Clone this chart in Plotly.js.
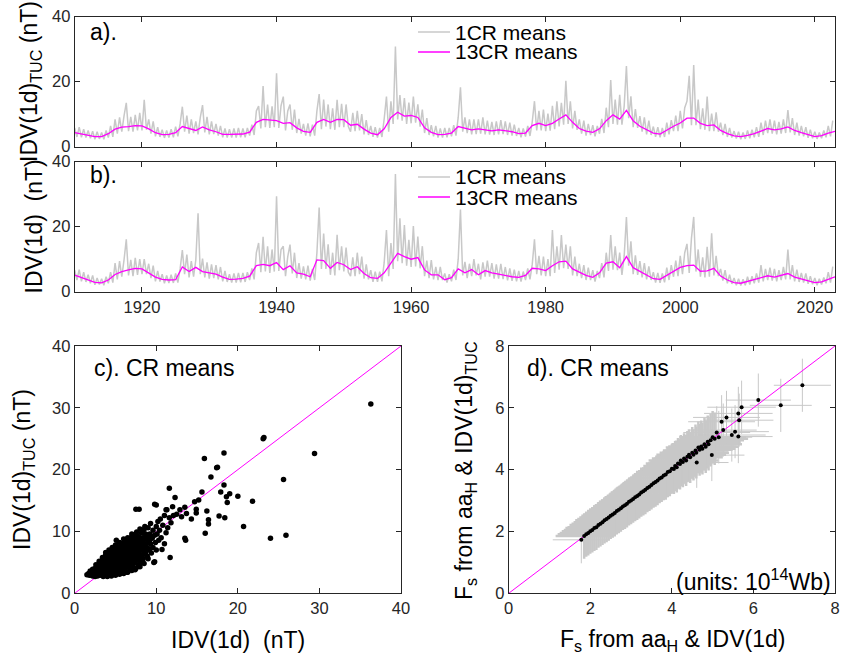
<!DOCTYPE html>
<html>
<head>
<meta charset="utf-8">
<script src="https://cdn.plot.ly/plotly-3.0.1.min.js"></script>
<style>html,body{margin:0;padding:0;background:#fff;}#chart{width:841px;height:661px;}</style>
</head>
<body>
<div id="chart"></div>
<script>
// ---------- Panels a/b: 1CR means (3 samples per year, from 1910) ----------
const grayStart = 1910;
const grayStep = 1/3;
const grayA = [
5.8,3.0,6.0, 2.9,5.4,2.8, 5.0,2.6,4.8, 2.3,4.6,2.4, 4.4,2.3,5.0, 2.8,6.4,3.0, 8.4,4.0,9.0, 4.6,9.5,13.5, 4.8,9.2,4.6, 9.8,5.0,10.4,
5.0,14.4,5.2, 8.4,4.0,7.8, 3.2,6.0,3.0, 5.2,2.7,5.0, 2.8,5.4,2.9, 6.2,3.2,7.0, 12.3,4.6,9.6, 4.0,8.4,4.2, 7.8,3.8,9.0, 12.8,4.4,9.2,
3.8,7.8,3.9, 7.0,3.4,6.4, 2.9,5.6,2.8, 5.4,2.8,5.6, 2.8,5.8,2.9, 5.6,2.9,5.8, 3.4,6.8,3.6, 11.0,12.5,5.6, 18.7,6.0,13.0, 5.8,12.4,6.0,
22.6,5.8,12.6, 15.4,5.0,11.0, 13.0,5.2,11.4, 4.2,8.6,4.0, 7.0,3.4,7.2, 3.2,6.8,3.4, 11.0,16.2,5.4, 14.5,6.2,13.0, 5.4,11.8,5.2, 14.4,6.0,13.2,
6.0,13.0,6.2, 4.6,10.4,4.8, 11.0,5.0,10.0, 3.8,8.2,3.6, 6.4,3.0,6.0, 2.8,5.8,3.0, 8.6,15.4,4.6, 14.0,7.0,30.8, 8.4,15.9,8.0, 15.0,7.0,13.6,
7.2,15.4,7.4, 13.0,6.2,11.4, 4.2,8.8,3.6, 6.6,3.2,6.4, 2.8,5.6,2.8, 5.8,2.9,5.8, 3.2,6.6,3.4, 9.0,18.3,4.6, 9.0,4.2,8.4, 3.8,8.4,3.9,
8.4,4.0,9.0, 3.8,8.0,3.7, 7.6,3.6,7.8, 3.8,8.2,3.9, 7.8,3.6,7.4, 3.4,6.8,3.3, 5.8,2.9,5.6, 3.1,6.4,3.3, 7.6,14.0,5.0, 11.0,5.0,11.4,
4.8,10.2,4.9, 12.6,5.4,14.0, 6.2,13.5,6.8, 20.3,7.0,14.0, 5.6,11.0,5.2, 8.4,4.0,8.0, 3.4,7.0,3.6, 6.6,3.2,6.4, 4.0,8.6,4.2, 12.0,6.0,20.5,
7.0,14.5,6.8, 16.0,6.8,12.5, 24.8,8.8,15.5, 6.0,11.6,5.8, 9.4,4.6,9.0, 3.8,8.0,3.6, 6.2,3.0,6.0, 2.9,5.8,3.0, 7.4,3.8,8.2, 4.8,9.6,4.8,
11.0,5.6,12.0, 14.0,21.8,6.6, 25.1,6.6,14.5, 5.4,11.8,5.2, 15.4,4.8,10.2, 4.8,10.6,4.6, 7.4,3.6,7.0, 3.0,5.8,2.8, 4.8,2.5,4.6, 2.3,4.4,2.4,
5.0,2.6,5.2, 2.9,6.0,3.0, 7.4,3.6,8.0, 4.2,8.4,4.0, 8.0,3.8,7.6, 4.0,8.4,4.2, 11.3,4.4,8.8, 3.6,7.4,3.4, 6.4,3.2,6.0, 2.7,5.2,2.6,
4.6,2.4,4.4, 2.6,5.0,2.9, 6.4,3.2,8.0
];
const grayB = [
6.6,3.6,6.8, 3.2,6.0,3.0, 5.2,2.6,5.0, 2.1,4.2,2.2, 4.0,2.0,4.6, 2.6,6.0,2.8, 8.8,3.8,9.4, 4.6,9.8,16.1, 5.0,9.8,4.8, 10.4,5.2,10.0,
5.4,10.0,5.4, 8.6,4.2,8.0, 3.2,6.4,3.1, 5.4,2.6,5.0, 2.7,5.2,2.7, 5.6,2.8,7.0, 12.8,5.4,11.4, 4.4,9.4,4.6, 9.8,24.1,5.4, 10.2,4.4,9.0,
4.0,8.4,4.2, 8.2,3.8,7.6, 3.2,6.4,3.0, 5.4,2.8,5.6, 2.8,5.8,2.9, 5.8,3.0,6.0, 3.6,7.2,3.8, 12.0,15.0,6.0, 16.9,6.2,14.0, 5.8,13.0,6.2,
29.4,6.4,13.0, 14.0,4.8,10.8, 14.5,5.6,12.0, 4.2,8.8,4.0, 7.8,3.8,8.0, 3.4,7.0,3.6, 12.0,25.9,7.0, 17.9,7.0,14.6, 5.2,12.0,5.0, 17.5,6.6,14.0,
6.2,13.6,6.0, 4.8,10.6,4.8, 12.0,5.4,10.8, 4.0,8.4,3.8, 6.6,3.0,6.2, 3.0,6.2,3.2, 9.0,19.0,4.8, 15.0,7.0,36.2, 9.4,22.6,8.8, 20.5,8.0,16.0,
7.6,20.2,7.8, 17.0,7.2,14.0, 4.8,9.6,4.2, 9.7,3.8,7.6, 3.6,7.6,3.6, 5.6,2.8,5.4, 3.2,6.8,3.6, 10.0,25.3,5.0, 9.2,4.2,8.6, 4.8,10.0,5.0,
8.6,3.8,9.0, 4.6,9.6,4.6, 8.8,4.0,8.4, 4.0,8.6,3.9, 7.6,3.5,7.2, 3.3,6.8,3.2, 6.4,3.1,6.2, 3.6,7.2,3.8, 8.4,16.1,5.4, 11.0,5.0,10.8,
4.8,10.0,4.8, 19.0,5.8,14.0, 6.8,17.4,7.2, 14.5,7.0,14.0, 5.0,10.8,4.8, 8.6,4.2,8.2, 3.6,7.4,3.6, 6.6,3.1,6.4, 4.2,8.8,4.4, 12.0,6.4,17.4,
6.8,14.0,6.6, 12.0,5.2,11.0, 23.0,8.0,15.5, 5.4,11.2,5.2, 9.4,4.4,8.8, 3.8,7.8,3.6, 6.0,2.8,5.8, 2.7,5.6,2.9, 7.4,3.6,8.2, 4.6,9.6,4.8,
11.0,5.4,12.0, 14.7,5.8,16.5, 23.0,6.2,13.0, 4.6,10.6,4.4, 13.8,4.6,18.0, 5.0,11.0,4.8, 7.0,3.4,6.6, 2.6,5.2,2.4, 4.2,2.0,4.0, 1.9,3.8,2.0,
4.6,2.2,4.8, 2.6,5.6,2.8, 8.2,3.2,7.0, 3.6,7.4,3.4, 7.0,3.2,6.6, 3.6,7.6,3.8, 13.0,3.8,8.2, 3.2,6.8,3.0, 5.8,2.8,5.6, 2.4,4.8,2.3,
4.2,2.0,4.0, 2.2,4.4,2.6, 6.0,2.8,7.7
];

// ---------- Panels a/b: 13CR means (yearly, from 1910) ----------
const magStart = 1910;
const magA = [
4.3,3.9,3.5,3.1,3.1,4.0,5.4,6.0,6.2,6.5,
6.4,5.5,4.3,3.7,3.8,4.3,6.2,5.5,5.0,6.1,
5.2,4.6,3.8,3.8,3.8,3.9,4.5,7.5,8.4,8.1,
8.0,7.2,7.4,5.8,4.7,4.4,7.5,8.4,7.5,8.4,
8.3,6.6,6.9,5.4,4.2,3.7,5.5,9.0,10.6,9.4,
9.6,9.0,5.8,4.4,3.7,3.8,4.2,6.2,5.8,5.2,
5.5,5.2,4.9,5.2,5.0,4.6,4.0,4.2,6.5,7.2,
6.5,7.2,8.5,9.8,7.5,5.6,4.8,4.4,5.5,8.0,
9.8,8.5,11.2,8.0,6.3,5.2,4.2,3.9,5.2,6.3,
7.3,8.8,8.8,7.2,6.5,6.7,5.0,4.0,3.3,3.1,
3.5,4.0,4.8,5.6,5.2,5.5,6.1,5.0,4.3,3.6,
3.1,3.4,4.2,4.7
];
const magB = [
5.1,4.4,3.6,2.9,2.7,3.6,5.3,6.2,6.7,7.2,
7.0,5.8,4.5,3.8,3.6,3.7,7.6,6.2,7.5,6.2,
5.7,5.4,4.5,3.8,3.9,4.1,4.8,8.0,8.4,8.0,
9.0,6.8,8.0,5.8,5.4,4.6,9.8,9.6,7.2,9.0,
8.3,6.8,7.7,5.6,4.3,4.1,5.8,9.0,11.8,10.8,
10.0,10.5,6.7,5.2,5.2,3.7,4.3,7.0,5.8,6.8,
5.2,6.5,5.8,5.4,4.9,4.6,4.4,5.0,7.2,7.0,
6.5,8.0,9.2,9.4,7.0,6.0,5.0,4.4,5.8,8.8,
9.2,7.4,10.8,7.4,6.3,5.2,4.0,3.8,5.1,6.3,
7.5,8.0,8.2,6.3,6.4,7.2,4.8,3.6,2.8,2.6,
3.2,3.7,4.5,4.9,4.5,5.0,5.6,4.5,4.0,3.3,
2.8,3.0,3.9,4.6
];
const yearTicks = [1920,1940,1960,1980,2000,2020];

// ---------- Panel c: CR means scatter ----------
const cX = [1.5,1.7,1.8,2.0,2.1,2.2,2.3,2.4,2.5,2.5,2.6,2.7,2.8,2.8,2.9,3.0,3.0,3.1,3.2,3.2,3.3,3.4,3.4,3.5,3.6,3.6,3.7,3.7,3.8,3.8,3.9,4.0,4.0,4.1,4.1,4.2,4.2,4.3,4.3,4.4,4.5,4.5,4.6,4.6,4.7,4.8,4.8,4.9,4.9,5.0,5.0,5.1,5.1,5.2,5.2,5.3,5.3,5.4,5.4,5.5,5.6,5.6,5.7,5.7,5.8,5.8,5.9,6.0,6.0,6.1,6.1,6.2,6.2,6.3,6.3,6.4,6.5,6.5,6.6,6.6,6.7,6.8,6.8,6.9,7.0,7.0,7.1,7.1,7.2,7.3,7.3,7.4,7.5,7.5,7.6,7.7,7.7,7.8,7.9,7.9,8.0,8.0,8.1,8.2,8.2,8.3,8.4,8.5,8.5,8.6,8.7,8.8,8.9,9.0,9.0,9.1,9.2,9.3,9.3,9.4,9.5,9.6,9.6,9.7,9.8,9.8,9.9,10.0,10.0,10.1,10.2,10.3,10.4,10.5,10.6,10.7,10.8,11.0,11.0,11.2,11.3,11.4,11.6,11.6,11.7,11.8,12.0,12.1,12.3,12.5,12.9,13.1,13.5,13.5,13.6,13.7,14.3,14.7,14.9,14.9,15.2,15.6,15.9,16.0,16.2,16.4,16.4,16.7,17.4,17.5,17.7,17.9,18.3,18.3,18.4,18.6,18.7,19.0,20.0,20.7,21.8,23.1,23.2,24.0,25.6,25.9,29.4,36.3,10.0,7.5,9.8,7.4,6.4,11.2,
2.2,2.6,2.9,3.1,3.3,3.5,3.7,3.9,4.0,4.2,4.4,4.4,4.6,4.7,4.9,5.0,5.1,5.3,5.5,5.5,5.7,5.9,6.0,6.2,6.4,6.5,6.7,6.9,7.1,7.3,7.5,7.7,7.9,8.1,8.3,8.5,8.8,9.1,4.8,3.9,2.4,2.7,
2.3,2.35,2.7,2.65,3.1,3.05,3.15,3.1,3.5,3.45,3.55,3.5,3.45,3.9,3.85,3.95,3.9,4.0,3.85,4.3,4.25,4.35,4.3,4.2,4.35,4.7,4.65,4.75,4.7,4.6,4.75,5.1,5.05,5.15,5.1,5.0,5.15,5.5,5.45,5.55,5.5,5.4,5.55,5.9,5.85,5.95,5.9,5.8,5.95,6.3,6.25,6.35,6.3,6.2,6.35,6.7,6.65,6.75,6.7,6.6,6.75,7.1,7.05,7.15,7.1,7.0,7.5,7.45,7.55,7.5,7.4,7.9,7.85,7.95,7.9,7.8,8.3,8.25,8.35,8.3,8.7,8.65,8.75,8.7,9.2,9.15,9.25,
3.5,4.0,4.5,5.0,5.5,6.0,6.5,7.0,7.5,8.0,8.5,4.2,5.2,6.2,7.2,8.2,9.0,5.8,6.8,7.8,
2.6,3.0,3.4,3.8,4.2,4.6,5.0,5.5,6.0,6.5,7.0,7.6,8.0,8.6,3.2,4.4,5.3,6.2,6.8,7.4,2.2,1.9,
2.0,2.4,3.0,3.3,3.6,4.0,4.4,4.8,5.2,5.6,6.0,6.4,6.8,7.2,7.6,8.0,5.0,5.8,6.6,7.4,8.2];
const cY = [3.0,3.2,2.9,3.4,3.0,2.8,3.6,3.2,2.7,4.0,3.5,3.0,4.3,2.8,3.8,3.3,4.8,2.9,4.1,3.6,5.2,4.5,3.1,3.9,5.6,2.9,4.3,3.4,4.9,6.2,3.7,5.4,3.1,4.5,6.6,3.6,5.9,4.1,5.0,3.3,6.3,4.7,3.8,5.5,6.9,4.3,5.1,3.5,6.0,4.8,7.3,8.6,4.1,5.7,6.6,3.7,5.2,4.5,7.0,6.2,4.9,3.9,7.6,5.6,4.3,6.7,5.2,8.1,4.6,6.1,7.2,5.0,4.0,5.7,8.6,6.6,4.4,7.6,5.4,6.2,8.2,4.8,7.0,5.9,9.2,6.5,4.6,7.7,5.5,8.6,6.9,5.0,6.2,9.6,7.4,5.6,8.2,6.7,13.6,9.0,5.2,7.6,6.2,8.6,9.8,7.0,5.6,8.0,10.3,6.6,9.2,7.4,6.0,8.4,10.6,7.0,9.6,8.0,11.3,6.5,8.9,10.2,7.4,5.0,9.4,14.4,8.2,10.8,7.0,9.6,11.6,8.6,10.2,12.0,9.0,7.1,11.0,12.6,8.0,9.8,13.5,10.6,17.0,12.2,5.8,11.4,14.0,12.6,15.5,12.8,13.5,12.4,13.9,8.9,8.6,12.9,12.0,14.8,13.6,13.0,15.1,16.4,21.8,9.7,13.3,11.9,11.2,18.8,20.3,20.4,12.5,16.4,22.7,17.5,12.2,15.6,14.7,16.1,15.7,10.8,14.9,25.0,25.2,8.9,18.4,9.4,22.6,30.6,14.3,13.6,5.1,3.8,3.4,13.5,
3.3,3.1,3.4,3.9,3.4,4.4,3.9,4.4,4.0,4.8,4.2,5.3,4.4,5.0,4.6,5.3,6.0,4.7,5.4,4.2,6.0,4.8,5.5,6.4,5.2,6.0,6.8,5.4,6.2,7.4,5.8,7.0,6.4,8.0,7.6,6.8,8.0,8.8,5.7,5.1,3.9,4.2,
2.9,3.3,3.2,3.7,3.1,3.5,4.0,4.4,3.0,3.5,4.0,4.6,5.0,3.3,3.8,4.3,4.8,5.3,5.8,3.2,3.7,4.3,4.6,5.4,5.8,3.5,4.0,4.6,5.3,5.9,6.4,3.6,4.4,5.0,5.5,6.3,6.8,3.9,4.6,5.1,5.9,6.5,7.1,4.2,4.8,5.5,6.3,6.9,7.4,4.5,5.2,5.9,6.6,7.2,7.9,4.9,5.7,6.4,7.1,7.7,8.4,5.2,6.0,6.8,7.5,8.3,5.4,6.5,7.1,8.0,8.8,5.8,6.8,7.3,8.3,9.2,6.2,7.3,8.2,9.0,6.6,7.8,8.8,9.6,7.2,8.5,9.3,
2.7,2.7,2.8,2.9,3.1,3.2,3.4,3.7,4.0,4.3,4.8,2.9,3.2,3.6,4.2,5.0,5.6,3.5,4.0,4.6,
4.6,5.2,5.8,6.6,7.0,7.4,7.8,8.2,8.8,9.0,9.6,9.9,10.4,10.8,4.9,6.6,7.5,8.2,8.6,9.1,3.9,3.6,
3.0,3.1,3.8,4.2,4.6,5.0,5.6,6.0,6.2,6.6,7.0,7.3,7.8,8.0,8.4,8.8,4.0,4.5,5.0,5.5,6.0];
const diagC = [0, 40];

// ---------- Panel d: open flux with uncertainties ----------
const dX = [1.85,1.90,1.95,2.00,2.05,2.10,2.15,2.20,2.25,2.30,2.35,2.40,2.45,2.50,2.55,2.60,2.65,2.70,2.75,2.80,2.85,2.90,2.95,3.00,3.05,3.10,3.15,3.20,3.25,3.30,3.35,3.40,3.45,3.50,3.55,3.60,3.65,3.70,3.75,3.80,3.85,3.90,3.95,4.00,
4.05,4.08,4.12,4.15,4.20,4.22,4.27,4.30,4.35,4.38,4.42,4.45,4.50,4.53,4.58,4.60,4.65,4.68,4.72,4.75,4.80,4.83,4.88,4.90,4.95,5.00,5.05];
const dY = [1.85,1.91,1.95,2.01,2.05,2.11,2.14,2.21,2.25,2.30,2.36,2.40,2.45,2.51,2.55,2.60,2.66,2.70,2.75,2.81,2.85,2.90,2.96,3.00,3.05,3.11,3.15,3.20,3.26,3.30,3.35,3.41,3.45,3.50,3.56,3.60,3.65,3.71,3.75,3.81,3.84,3.92,3.95,4.03,
4.02,4.12,4.08,4.20,4.18,4.30,4.25,4.36,4.30,4.42,4.48,4.40,4.55,4.48,4.62,4.55,4.72,4.64,4.75,4.68,4.82,4.74,4.90,4.82,4.95,5.05,5.00];
const dEx = [0.70,0.70,0.70,0.70,0.70,0.71,0.71,0.71,0.71,0.71,0.72,0.72,0.72,0.72,0.72,0.73,0.73,0.73,0.73,0.73,0.74,0.74,0.74,0.74,0.74,0.75,0.75,0.75,0.75,0.75,0.76,0.76,0.76,0.76,0.76,0.77,0.77,0.77,0.77,0.77,0.78,0.78,0.78,0.78,
0.78,0.78,0.78,0.79,0.79,0.79,0.79,0.79,0.79,0.79,0.80,0.80,0.80,0.80,0.80,0.80,0.80,0.81,0.81,0.81,0.81,0.81,0.81,0.82,0.82,0.82,0.82];
const dEy = [0.73,0.73,0.73,0.73,0.73,0.74,0.74,0.74,0.74,0.74,0.75,0.75,0.75,0.75,0.75,0.76,0.76,0.76,0.76,0.76,0.77,0.77,0.77,0.77,0.77,0.78,0.78,0.78,0.78,0.78,0.79,0.79,0.79,0.79,0.79,0.80,0.80,0.80,0.80,0.80,0.81,0.81,0.81,0.81,
0.81,0.81,0.82,0.82,0.82,0.82,0.82,0.82,0.83,0.83,0.83,0.83,0.83,0.83,0.84,0.84,0.84,0.84,0.84,0.84,0.85,0.85,0.85,0.85,0.85,0.85,0.85];
// scattered CRs (outliers)
const dXo = [1.78,4.61,4.98,5.22,5.26,5.34,5.47,5.55,5.63,5.65,5.63,5.71,6.12,6.67,7.20,5.10,5.15];
const dYo = [1.73,4.23,4.47,5.55,5.28,5.69,5.12,5.23,5.07,5.60,5.82,6.02,6.25,6.08,6.73,5.20,5.05];
const dExo = [0.70,0.78,0.80,0.82,0.82,0.82,0.83,0.83,0.84,0.84,0.84,0.84,0.80,0.76,0.70,0.82,0.82];
const dEyo = [0.76,0.82,0.84,0.86,0.86,0.86,0.86,0.86,0.86,0.86,0.86,0.86,0.86,0.86,0.86,0.85,0.85];
const diagD = [0, 8];

// ---------- build ----------
const gx = grayA.map((_, i) => grayStart + i * grayStep);
const gxB = grayB.map((_, i) => grayStart + i * grayStep);
const mx = magA.map((_, i) => magStart + i);
const mxB = magB.map((_, i) => magStart + i);

const GRAY = '#c8c8c8', MAG = '#ff00ff', AX = '#262626';
const FONT = 'Liberation Sans, Arial, sans-serif';
const HIDDEN = {color: 'rgba(0,0,0,0)', size: 1};

const traces = [
  {x: gx, y: grayA, xaxis: 'x', yaxis: 'y', mode: 'lines', line: {color: GRAY, width: 1.5}, name: '1CR means'},
  {x: mx, y: magA, xaxis: 'x', yaxis: 'y', mode: 'lines', line: {color: MAG, width: 1.3}, name: '13CR means'},
  {x: gxB, y: grayB, xaxis: 'x2', yaxis: 'y2', mode: 'lines', line: {color: GRAY, width: 1.5}, name: '1CR means'},
  {x: mxB, y: magB, xaxis: 'x2', yaxis: 'y2', mode: 'lines', line: {color: MAG, width: 1.3}, name: '13CR means'},
  {x: diagC, y: diagC, xaxis: 'x3', yaxis: 'y3', mode: 'lines', line: {color: MAG, width: 1}},
  {x: cX, y: cY, xaxis: 'x3', yaxis: 'y3', mode: 'markers', marker: {color: '#000', size: 5.5}},
  {x: dX, y: dY, xaxis: 'x4', yaxis: 'y4', mode: 'markers', marker: HIDDEN,
   error_x: {type: 'data', array: dEx, color: GRAY, thickness: 2.5, width: 0},
   error_y: {type: 'data', array: dEy, color: GRAY, thickness: 2.5, width: 0}},
  {x: dXo, y: dYo, xaxis: 'x4', yaxis: 'y4', mode: 'markers', marker: HIDDEN,
   error_x: {type: 'data', array: dExo, color: GRAY, thickness: 1, width: 0},
   error_y: {type: 'data', array: dEyo, color: GRAY, thickness: 1, width: 0}},
  {x: diagD, y: diagD, xaxis: 'x4', yaxis: 'y4', mode: 'lines', line: {color: MAG, width: 1}},
  {x: dX, y: dY, xaxis: 'x4', yaxis: 'y4', mode: 'markers', marker: {color: '#000', size: 4}},
  {x: dXo, y: dYo, xaxis: 'x4', yaxis: 'y4', mode: 'markers', marker: {color: '#000', size: 4}}
];

function ax(extra) {
  return Object.assign({
    showline: true, mirror: 'ticks', linecolor: AX, linewidth: 1,
    ticks: 'inside', ticklen: 5, tickcolor: AX, tickwidth: 1,
    showgrid: false, zeroline: false, automargin: false,
    tickfont: {family: FONT, size: 16.5, color: AX}
  }, extra);
}
const W = 841, H = 661;
const px = v => v / W, py = v => 1 - v / H;

function ann(text, x, y, opts) {
  return Object.assign({text: text, x: px(x), y: py(y), xref: 'paper', yref: 'paper',
    showarrow: false, font: {family: FONT, size: 23, color: '#000'}, xanchor: 'center', yanchor: 'middle'}, opts || {});
}
function legLine(x0, x1, y, color) {
  return {type: 'line', xref: 'paper', yref: 'paper', x0: px(x0), x1: px(x1), y0: py(y), y1: py(y),
    line: {color: color, width: 1.5}};
}
const LEGFONT = {family: FONT, size: 21, color: '#000'};

const layout = {
  width: W, height: H, margin: {l: 0, r: 0, t: 0, b: 0},
  paper_bgcolor: '#fff', plot_bgcolor: '#fff', showlegend: false,
  xaxis: ax({domain: [px(74.7), px(835)], range: [1910, 2023], tickvals: yearTicks, showticklabels: false, anchor: 'y'}),
  yaxis: ax({domain: [py(146.7), py(16.7)], range: [0, 40], tickvals: [0, 20, 40], anchor: 'x'}),
  xaxis2: ax({domain: [px(74.7), px(835)], range: [1910, 2023], tickvals: yearTicks, anchor: 'y2'}),
  yaxis2: ax({domain: [py(291.7), py(161.7)], range: [0, 40], tickvals: [0, 20, 40], anchor: 'x2'}),
  xaxis3: ax({domain: [px(74.7), px(401)], range: [0, 40], tickvals: [0, 10, 20, 30, 40], anchor: 'y3'}),
  yaxis3: ax({domain: [py(593.3), py(346)], range: [0, 40], tickvals: [0, 10, 20, 30, 40], anchor: 'x3'}),
  xaxis4: ax({domain: [px(508.7), px(835)], range: [0, 8], tickvals: [0, 2, 4, 6, 8], anchor: 'y4'}),
  yaxis4: ax({domain: [py(593.3), py(346)], range: [0, 8], tickvals: [0, 2, 4, 6, 8], anchor: 'x4'}),
  shapes: [
    legLine(418, 450, 32, GRAY), legLine(418, 450, 52, MAG),
    legLine(418, 450, 177, GRAY), legLine(418, 450, 197, MAG)
  ],
  annotations: [
    ann('1CR means', 453, 32, {xanchor: 'left', font: LEGFONT}),
    ann('13CR means', 453, 52, {xanchor: 'left', font: LEGFONT}),
    ann('1CR means', 453, 177, {xanchor: 'left', font: LEGFONT}),
    ann('13CR means', 453, 197, {xanchor: 'left', font: LEGFONT}),
    ann('a).', 88, 32, {xanchor: 'left'}),
    ann('b).', 88, 175, {xanchor: 'left'}),
    ann('c). CR means', 91.7, 368, {xanchor: 'left'}),
    ann('d). CR means', 525, 368, {xanchor: 'left'}),
    ann('(units: 10<sup>14</sup>Wb)', 833, 580, {xanchor: 'right'}),
    ann('IDV(1d)<sub>TUC</sub> (nT)', 30, 82, {textangle: -90}),
    ann('IDV(1d)  (nT)', 33.7, 226.7, {textangle: -90}),
    ann('IDV(1d)<sub>TUC</sub> (nT)', 24, 470, {textangle: -90}),
    ann('IDV(1d)  (nT)', 237.5, 640),
    ann('F<sub>s</sub> from aa<sub>H</sub> & IDV(1d)<sub>TUC</sub>', 466, 470, {textangle: -90}),
    ann('F<sub>s</sub> from aa<sub>H</sub> & IDV(1d)', 672, 640)
  ]
};

Plotly.newPlot('chart', traces, layout, {staticPlot: true, displayModeBar: false});
</script>
</body>
</html>
